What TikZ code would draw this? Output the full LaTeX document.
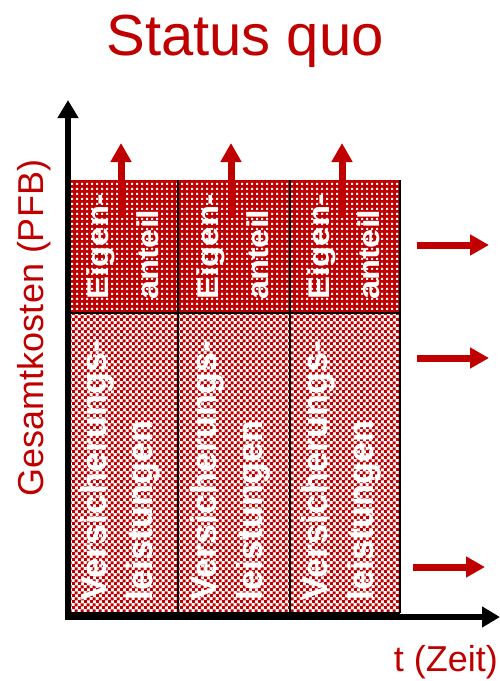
\documentclass[tikz,border=0pt]{standalone}
\usepackage{fontspec}
\setmainfont{Liberation Sans}
\usetikzlibrary{arrows.meta,patterns.meta,positioning}
\definecolor{dbred}{HTML}{C00000}

\pgfdeclarepattern{name=fchecker, type=uncolored,
  bottom left={\pgfpointorigin}, top right={\pgfpoint{6pt}{6pt}},
  tile size={\pgfpoint{6pt}{6pt}},
  code={\pgfpathrectangle{\pgfpointorigin}{\pgfpoint{3.4pt}{3.4pt}}
        \pgfpathrectangle{\pgfpoint{3pt}{3pt}}{\pgfpoint{3.4pt}{3.4pt}}
        \pgfusepath{fill}}}
\pgfdeclarepattern{name=holes, type=uncolored,
  bottom left={\pgfpointorigin}, top right={\pgfpoint{5pt}{5pt}},
  tile size={\pgfpoint{5pt}{5pt}},
  code={\pgfpathrectangle{\pgfpoint{1.3pt}{1.3pt}}{\pgfpoint{2.4pt}{2.4pt}}
        \pgfusepath{fill}}}

\begin{document}
\begin{tikzpicture}[x=1pt,y=-1pt,
  eigen/.style={fill=dbred,postaction={pattern=holes,pattern color=white}},
  vers/.style={fill=white,postaction={pattern=fchecker,pattern color=dbred}},
  boxtext/.style={rotate=90,anchor=west,align=left,text=white,inner sep=0pt},
  redarrow/.style={draw=dbred,line width=7pt,-{Triangle[width=20pt,length=19pt]}},
  axis/.style={line width=6.5pt,line join=miter,{Triangle[width=20pt,length=18pt]}-{Triangle[width=20pt,length=18pt]}},
  axislabel/.style={text=dbred,inner sep=0pt,font=\fontsize{36}{40}\selectfont}]
\useasboundingbox (0,0) rectangle (500,681);

\node[anchor=base,text=dbred,inner sep=0pt,font=\fontsize{58}{60}\selectfont] (title) at (245,55) {Status quo};

% the three years
\foreach \xa/\xb [count=\i] in {70/178,178/290,290/400}{
	\pgfmathsetmacro{\cx}{(\xa+\xb)/2}
	\fill[eigen] (\xa,180) rectangle (\xb,313);
	\fill[vers] (\xa,313) rectangle (\xb,613);
	\node[boxtext,xscale=1.15,font=\bfseries\fontsize{30}{50}\selectfont] (e\i) at (\cx-1,300) {Eigen-\\anteil};
	\node[boxtext,font=\bfseries\fontsize{36}{46}\selectfont] (v\i) at (\cx-4,601) {Versicherungs-\\leistungen};
	\coordinate (u\i s) at (\cx-3,218);
	\coordinate (u\i e) at (\cx-3,143);
}
\foreach \x in {178,290,400}
	\draw[line width=1.5pt] (\x,180) -- (\x,613);
\foreach \y in {313,613}
	\draw[line width=1.5pt] (70,\y) -- (400,\y);

\foreach \i in {1,2,3}
	\draw[redarrow] (u\i s) -- (u\i e);

\coordinate (r1s) at (417,245);
\coordinate (r1e) at (489,245);
\coordinate (r2s) at (417,358);
\coordinate (r2e) at (489,358);
\coordinate (r3s) at (413,567);
\coordinate (r3e) at (485,567);
\foreach \i in {1,2,3}
	\draw[redarrow] (r\i s) -- (r\i e);

% axes
\coordinate (origin) at (68,617);
\coordinate (ytip) at (68,100);
\coordinate (xtip) at (500,617);
\draw[axis] (ytip) -- (origin) -- (xtip);

\node[axislabel,rotate=90,anchor=base] (ylab) at (43,328) {Gesamtkosten (PFB)};
\node[axislabel,anchor=base east] (xlab) at (498,671) {t (Zeit)};
\end{tikzpicture}
\end{document}
